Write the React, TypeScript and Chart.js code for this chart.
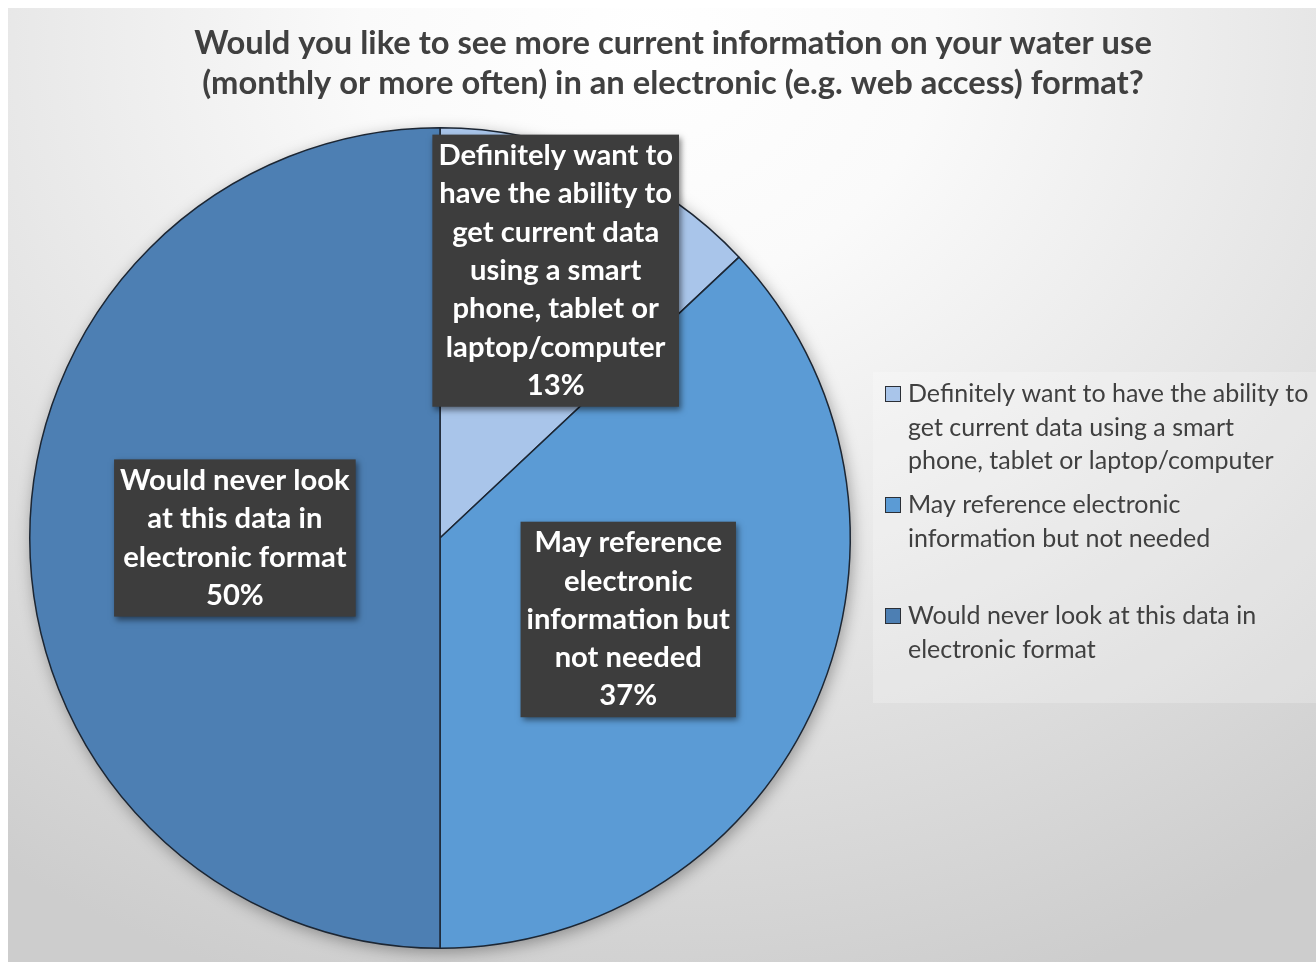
import React, { useEffect, useRef } from "react";
import { Chart, registerables } from "chart.js";

Chart.register(...registerables);

// ---------- data ----------
const titleLines = [
  "Would you like to see more current information on your water use",
  "(monthly or more often) in an electronic (e.g. web access) format?",
];
const categories = [
  "Definitely want to have the ability to get current data using a smart phone, tablet or laptop/computer",
  "May reference electronic information but not needed",
  "Would never look at this data in electronic format",
];
const values = [13, 37, 50];
const sliceColors = ["#a9c5ea", "#5b9bd5", "#4d7fb3"];
const dataLabelLines = [
  ["Definitely want to", "have the ability to", "get current data", "using a smart", "phone, tablet or", "laptop/computer"],
  ["May reference", "electronic", "information but", "not needed"],
  ["Would never look", "at this data in", "electronic format"],
];
const legendLines = [
  ["Definitely want to have the ability to", "get current data using a smart", "phone, tablet or laptop/computer"],
  ["May reference electronic", "information but not needed"],
  ["Would never look at this data in", "electronic format"],
];
const labelRadialFactors = [0.71, 0.5, 0.5];

// ---------- style / layout ----------
const FONT = "Lato, 'Open Sans', sans-serif";
const TITLE_SIZE = 32.7;
const TITLE_COLOR = "#404040";
const LABEL_SIZE = 29.2;
const LABEL_LINE = 38.3;
const LABEL_PADX = 6;
const LABEL_PADY = 2;
const LEGEND_SIZE = 25;
const LEGEND_LINE = 33.5;

const titlePlugin = {
  id: "customTitle",
  afterDraw(chart: any) {
    const ctx = chart.ctx;
    ctx.save();
    ctx.font = `bold ${TITLE_SIZE}px ${FONT}`;
    ctx.fillStyle = TITLE_COLOR;
    ctx.textAlign = "center";
    ctx.textBaseline = "middle";
    titleLines.forEach((t, i) => ctx.fillText(t, 665, 35 + i * 40));
    ctx.restore();
  },
};

const shadowPlugin = {
  id: "pieShadow",
  beforeDatasetsDraw(chart: any) {
    const meta = chart.getDatasetMeta(0);
    const arc = meta.data[0];
    if (!arc) return;
    const ctx = chart.ctx;
    ctx.save();
    ctx.shadowColor = "rgba(0,0,0,0.35)";
    ctx.shadowBlur = 16;
    ctx.shadowOffsetX = 2;
    ctx.shadowOffsetY = 4;
    ctx.beginPath();
    ctx.arc(arc.x, arc.y, arc.outerRadius, 0, Math.PI * 2);
    ctx.fillStyle = sliceColors[2];
    ctx.fill();
    ctx.restore();
  },
};

const labelPlugin = {
  id: "boxLabels",
  afterDatasetsDraw(chart: any) {
    const ctx = chart.ctx;
    const meta = chart.getDatasetMeta(0);
    meta.data.forEach((arc: any, i: number) => {
      const { x, y, startAngle, endAngle, outerRadius } = arc.getProps(
        ["x", "y", "startAngle", "endAngle", "outerRadius"],
        true
      );
      const mid = (startAngle + endAngle) / 2;
      const d = outerRadius * labelRadialFactors[i];
      const cx = x + Math.cos(mid) * d;
      const cy = y + Math.sin(mid) * d;
      const lines = [...dataLabelLines[i], `${values[i]}%`];
      ctx.save();
      ctx.font = `bold ${LABEL_SIZE}px ${FONT}`;
      const w = Math.max(...lines.map((l) => ctx.measureText(l).width)) + 2 * LABEL_PADX;
      const h = lines.length * LABEL_LINE + 2 * LABEL_PADY;
      ctx.shadowColor = "rgba(0,0,0,0.5)";
      ctx.shadowBlur = 6;
      ctx.shadowOffsetX = 2;
      ctx.shadowOffsetY = 3;
      ctx.fillStyle = "#3d3d3d";
      ctx.fillRect(cx - w / 2, cy - h / 2, w, h);
      ctx.restore();
      ctx.save();
      ctx.font = `bold ${LABEL_SIZE}px ${FONT}`;
      ctx.fillStyle = "#ffffff";
      ctx.textAlign = "center";
      ctx.textBaseline = "middle";
      lines.forEach((l, j) =>
        ctx.fillText(l, cx, cy - h / 2 + LABEL_PADY + LABEL_LINE * (j + 0.5))
      );
      ctx.restore();
    });
  },
};

const legendPlugin = {
  id: "customLegend",
  afterDraw(chart: any) {
    const ctx = chart.ctx;
    ctx.save();
    ctx.fillStyle = "rgba(255,255,255,0.22)";
    ctx.fillRect(865, 364, 443, 331);
    ctx.font = `${LEGEND_SIZE}px ${FONT}`;
    ctx.textAlign = "left";
    ctx.textBaseline = "middle";
    legendLines.forEach((lines, i) => {
      const y0 = 386 + i * 111;
      ctx.fillStyle = sliceColors[i];
      ctx.fillRect(877.5, y0 - 7.5, 15, 15);
      ctx.strokeStyle = "#2b2f36";
      ctx.lineWidth = 1;
      ctx.strokeRect(877.5, y0 - 7.5, 15, 15);
      ctx.fillStyle = "#404040";
      lines.forEach((l, j) => ctx.fillText(l, 900, y0 + j * LEGEND_LINE));
    });
    ctx.restore();
  },
};

export default function App() {
  const ref = useRef<HTMLCanvasElement | null>(null);
  useEffect(() => {
    if (!ref.current) return;
    const chart = new Chart(ref.current, {
      type: "pie",
      data: {
        labels: categories,
        datasets: [
          {
            data: values,
            backgroundColor: sliceColors,
            borderColor: "#1c2633",
            borderWidth: 1.5,
          },
        ],
      },
      options: {
        animation: false,
        responsive: true,
        maintainAspectRatio: false,
        layout: { padding: { left: 21, right: 465, top: 119, bottom: 13 } },
        plugins: {
          legend: { display: false },
          title: { display: false },
          tooltip: { enabled: false },
        },
      },
      plugins: [shadowPlugin, labelPlugin, titlePlugin, legendPlugin],
    });
    return () => chart.destroy();
  }, []);

  return (
    <div
      style={{
        position: "fixed",
        left: 8,
        top: 8,
        width: 1308,
        height: 954,
        background:
          "radial-gradient(ellipse 1150px 1000px at 640px 30px, #ffffff 0%, #fafafa 25%, #e4e4e4 62%, #cdcdcd 100%)",
      }}
    >
      <canvas ref={ref} style={{ width: "100%", height: "100%" }} />
    </div>
  );
}
